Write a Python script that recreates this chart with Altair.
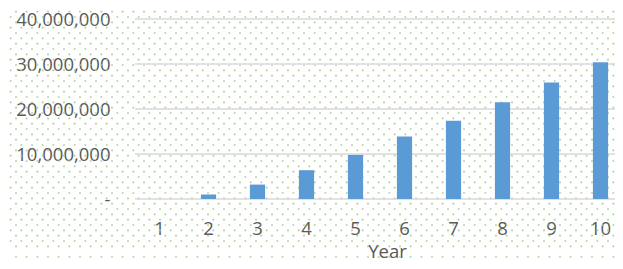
import altair as alt
import pandas as pd

years = [1, 2, 3, 4, 5, 6, 7, 8, 9, 10]
values = [0, 1000000, 3200000, 6400000, 9800000, 13900000, 17400000, 21500000, 25900000, 30400000]
y_ticks = [0, 10000000, 20000000, 30000000, 40000000]

FONT = "Open Sans"
TXT = "#595959"

bars_df = pd.DataFrame({"Year": years, "Value": values})
grid_df = pd.DataFrame({"v": y_ticks})

# decorative dotted background texture (staggered rows of dots), pixel offsets from plot origin
PITCH = 32 / 3
rows_a = pd.DataFrame({"py": [222 - PITCH * j for j in range(0, 25)]})
rows_b = pd.DataFrame({"py": [222 + PITCH / 2 - PITCH * j for j in range(-1, 24)]})


def dot_rows(df, offset):
    return alt.Chart(df).mark_rule(
        color="#a9d18e",
        strokeWidth=1.7,
        strokeDash=[1.7, PITCH - 1.7],
        strokeDashOffset=offset,
    ).encode(
        y=alt.Y("py:Q", scale=None),
        x=alt.value(-127),
        x2=alt.value(495),
    )


yscale = alt.Scale(domain=[0, 40000000], nice=False)
yaxis = alt.Axis(
    title=None,
    values=y_ticks,
    labelExpr="datum.value == 0 ? '-\u00a0\u00a0' : format(datum.value, ',')",
    labelFont=FONT,
    labelFontSize=18.5,
    labelColor=TXT,
    labelPadding=25,
    domain=False,
    ticks=False,
    grid=False,
)

grid = alt.Chart(grid_df).mark_rule(color="#d9d9d9", strokeWidth=1.5).encode(
    y=alt.Y("v:Q", scale=yscale, axis=yaxis),
    x=alt.value(0),
    x2=alt.value(495),
)

bars = alt.Chart(bars_df).mark_bar(color="#5b9bd5").encode(
    x=alt.X(
        "Year:O",
        scale=alt.Scale(range=[0, 490], paddingInner=0.69, paddingOuter=0.345),
        axis=alt.Axis(
            title="Year",
            labelAngle=0,
            labelFont=FONT,
            labelFontSize=18.5,
            labelColor=TXT,
            labelPadding=20,
            domain=False,
            ticks=False,
            grid=False,
            titleFont=FONT,
            titleFontSize=18.5,
            titleFontWeight="normal",
            titleColor=TXT,
            titleX=252,
            titleY=58,
            titleBaseline="alphabetic",
        ),
    ),
    y=alt.Y("Value:Q", scale=yscale, axis=yaxis),
)

chart = alt.layer(
    dot_rows(rows_a, 8.84), dot_rows(rows_b, 3.5), grid, bars
).properties(
    width=480,
    height=180,
    autosize=alt.AutoSizeParams(type="none"),
    padding={"left": 127, "top": 11, "right": 0, "bottom": 62},
    background="white",
).configure_view(strokeWidth=0)

chart.save("out.html", embed_options={"renderer": "svg", "actions": False})
